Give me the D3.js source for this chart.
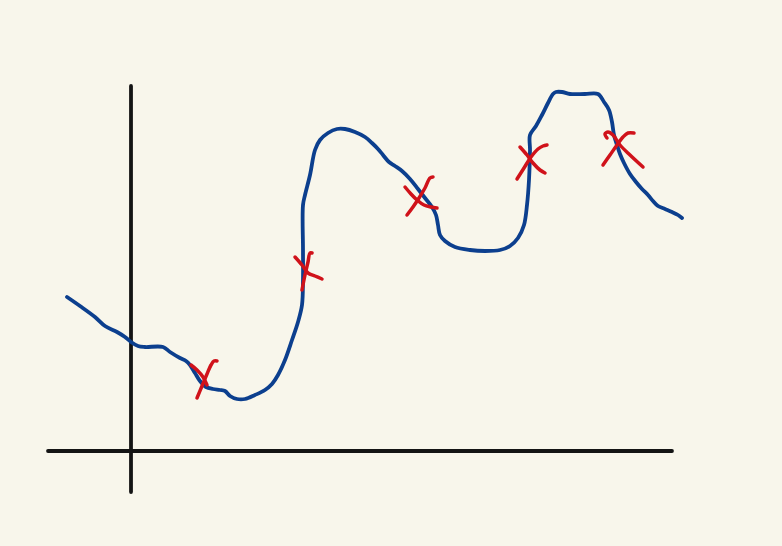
<!DOCTYPE html>
<html><head><meta charset="utf-8">
<script src="https://cdn.jsdelivr.net/npm/d3@7"></script>
<style>html,body{margin:0;padding:0;background:#f8f6eb;}svg{display:block;}</style>
</head><body><svg id="c" width="782" height="546"></svg>
<script>
// Sketch curve, in axis units (x from origin rightwards, y from origin upwards)
const curveX = [-64,-51,-36,-26,-14,-6,0,7,14,32,39,49,55,59,64,69,75,82,89,94,99,106,114,124,134,141,147,154,161,167,171,172,172,172,174,179,184,189,197,206,214,224,234,241,247,252,258,264,271,279,287,294,301,305,307,309,314,324,339,354,369,379,387,393,396,398,399,399,405,411,417,422,425,431,439,454,467,473,478,481,483,486,489,493,499,505,511,517,522,527,534,541,547,551];
const curveY = [154,145,134,125,119,114,109,105,104,104,99,93,90,86,78,70,64,62,61,60,55,52,52,56,61,67,76,91,111,129,146,171,201,246,256,276,301,311,318,322,322,319,314,308,302,296,289,285,280,272,262,253,244,236,226,216,210,204,201,200,201,205,213,226,246,271,301,316,325,336,348,357,359,359,357,357,357,349,341,329,316,306,297,288,277,269,262,256,250,245,242,239,236,233];

// Cross marks: each with two hand strokes (x list, y list)
const crossA_X = [[60,66,72,76],[164,171,177,184,191],[274,280,286,293,300,306],[389,396,402,409,414],[476,474,477,482,489,499,512]];
const crossA_Y = [[86,81,74,66],[194,186,178,175,172],[264,257,251,246,244,243],[304,296,288,281,278],[313,317,319,316,306,296,284]];
const crossB_X = [[66,71,76,80,83,86],[171,174,177,179,181],[276,282,288,294,299,302],[386,393,400,407,412,416],[472,479,486,492,497,503]];
const crossB_Y = [[53,65,77,86,90,90],[161,176,189,198,198],[236,244,253,263,273,274],[272,283,294,302,305,306],[286,296,306,314,318,318]];

// Axis extents
const xAxisExtent = [-83, 541];
const yAxisExtent = [-41, 365];

const x = d3.scaleLinear().domain([0, 540]).range([131, 671]);
const y = d3.scaleLinear().domain([0, 365]).range([451, 86]);

const svg = d3.select("#c");
svg.append("rect").attr("width",782).attr("height",546).attr("fill","#f8f6eb");

const axisStyle = s => s.attr("stroke","#141414").attr("stroke-width",3.8).attr("stroke-linecap","round");
svg.append("line").attr("x1",x(xAxisExtent[0])).attr("x2",x(xAxisExtent[1])).attr("y1",y(0)).attr("y2",y(0)).call(axisStyle);
svg.append("line").attr("x1",x(0)).attr("x2",x(0)).attr("y1",y(yAxisExtent[0])).attr("y2",y(yAxisExtent[1])).call(axisStyle);

const line = d3.line().x(d=>x(d[0])).y(d=>y(d[1])).curve(d3.curveCatmullRom.alpha(0.5));

svg.append("path").datum(d3.zip(curveX, curveY)).attr("d", line)
  .attr("fill","none").attr("stroke","#0c3f8e").attr("stroke-width",3.8)
  .attr("stroke-linecap","round").attr("stroke-linejoin","round");

const strokes = [];
crossA_X.forEach((xs,i)=>{ strokes.push(d3.zip(xs, crossA_Y[i])); strokes.push(d3.zip(crossB_X[i], crossB_Y[i])); });
svg.selectAll("path.cross").data(strokes).join("path").attr("class","cross")
  .attr("d", line).attr("fill","none").attr("stroke","#d0121a").attr("stroke-width",3.5)
  .attr("stroke-linecap","round").attr("stroke-linejoin","round");
</script></body></html>
